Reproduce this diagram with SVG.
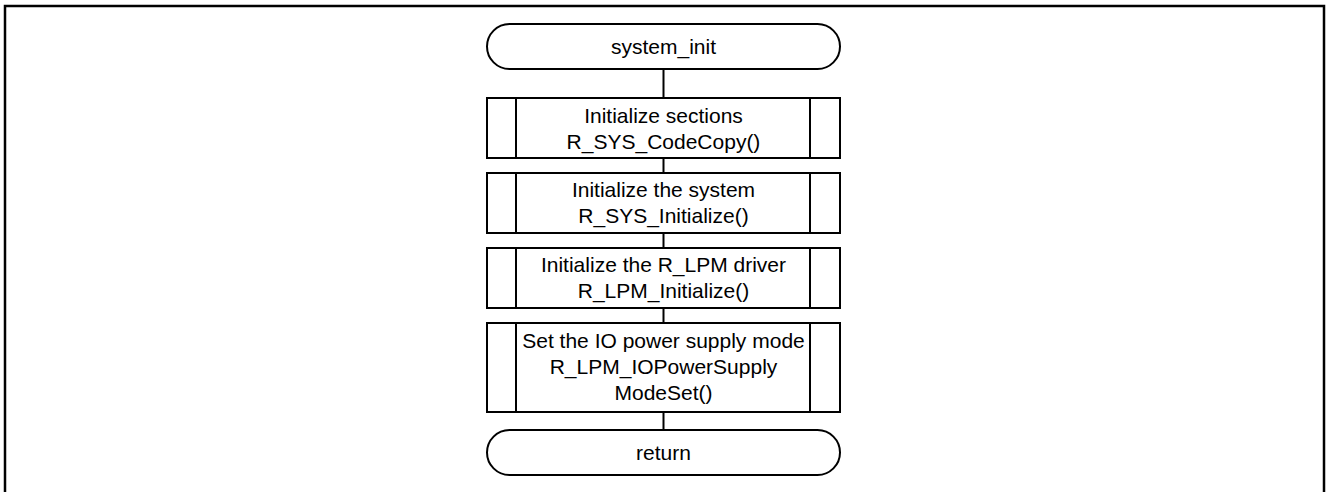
<svg xmlns="http://www.w3.org/2000/svg" width="1327" height="492" viewBox="0 0 1327 492">
<style>
.s{fill:#fff;stroke:#000;stroke-width:2}
.t{font-family:"Liberation Sans",Arial,sans-serif;font-size:21px;fill:#000;text-anchor:middle}
.c{stroke:#000;stroke-width:2;fill:none}
</style>
<rect x="5" y="6" width="1319" height="500" fill="#fff" stroke="#000" stroke-width="2.5"/>
<g id="connectors">
<line class="c" x1="663.5" y1="69" x2="663.5" y2="98"/>
<line class="c" x1="663.5" y1="158" x2="663.5" y2="173"/>
<line class="c" x1="663.5" y1="233" x2="663.5" y2="248"/>
<line class="c" x1="663.5" y1="308" x2="663.5" y2="323"/>
<line class="c" x1="663.5" y1="412" x2="663.5" y2="430"/>
</g>
<g id="start">
<rect class="s" x="487" y="24" width="353" height="45" rx="22.5"/>
<text class="t" x="663.5" y="54">system_init</text>
</g>
<g id="box1">
<rect class="s" x="487" y="98" width="353" height="60"/>
<line class="c" x1="516" y1="98" x2="516" y2="158"/>
<line class="c" x1="810" y1="98" x2="810" y2="158"/>
<text class="t" x="663.5" y="123">Initialize sections</text>
<text class="t" x="663.5" y="149">R_SYS_CodeCopy()</text>
</g>
<g id="box2">
<rect class="s" x="487" y="173" width="353" height="60"/>
<line class="c" x1="516" y1="173" x2="516" y2="233"/>
<line class="c" x1="810" y1="173" x2="810" y2="233"/>
<text class="t" x="663.5" y="197">Initialize the system</text>
<text class="t" x="663.5" y="223">R_SYS_Initialize()</text>
</g>
<g id="box3">
<rect class="s" x="487" y="248" width="353" height="60"/>
<line class="c" x1="516" y1="248" x2="516" y2="308"/>
<line class="c" x1="810" y1="248" x2="810" y2="308"/>
<text class="t" x="663.5" y="272">Initialize the R_LPM driver</text>
<text class="t" x="663.5" y="298">R_LPM_Initialize()</text>
</g>
<g id="box4">
<rect class="s" x="487" y="323" width="353" height="89"/>
<line class="c" x1="516" y1="323" x2="516" y2="412"/>
<line class="c" x1="810" y1="323" x2="810" y2="412"/>
<text class="t" x="663.5" y="348">Set the IO power supply mode</text>
<text class="t" x="663.5" y="374">R_LPM_IOPowerSupply</text>
<text class="t" x="663.5" y="400">ModeSet()</text>
</g>
<g id="end">
<rect class="s" x="487" y="430" width="353" height="45" rx="22.5"/>
<text class="t" x="663.5" y="460">return</text>
</g>
</svg>
